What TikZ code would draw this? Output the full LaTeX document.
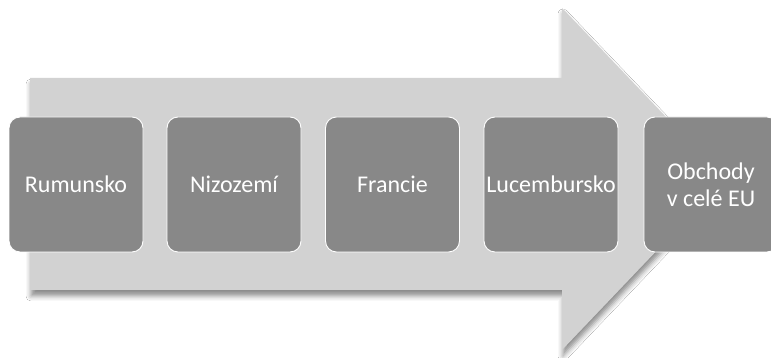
\documentclass[tikz,border=0pt]{standalone}
\usepackage{fontspec}
\setmainfont{Carlito}
\usetikzlibrary{shadows.blur}
\begin{document}
\begin{tikzpicture}[x=1pt,y=1pt,
  stage/.style={draw=white, line width=0.9pt, fill=boxgray, rounded corners=11pt,
    minimum width=134pt, minimum height=135pt, inner sep=2pt, text=white,
    font=\fontsize{24}{27}\selectfont, align=center},
  bigarrow/.style={fill=arrowgray, draw=none,
    blur shadow={shadow xshift=1pt, shadow yshift=-6pt, shadow blur radius=5pt, shadow opacity=45}}]
\definecolor{boxgray}{HTML}{888888}
\definecolor{arrowgray}{HTML}{D2D2D2}
\useasboundingbox (0,0) rectangle (771,358);
\clip (0,0) rectangle (771,358);
\fill[white] (0,0) rectangle (771,358);
% arrow (y measured from bottom: y_tikz = 358 - y_img)
\path[bigarrow] (30,280) -- (562,280) -- (562,350) -- (725,179) -- (562,8) -- (562,68) -- (30,68) -- cycle;
\node[stage] (r) at (76,173.5) {Rumunsko};
\node[stage] (n) at (234,173.5) {Nizozemí};
\node[stage] (f) at (392.5,173.5) {Francie};
\node[stage] (l) at (551,173.5) {Lucembursko};
\node[stage] (o) at (711,173.5) {Obchody\\v celé EU};
\end{tikzpicture}
\end{document}
